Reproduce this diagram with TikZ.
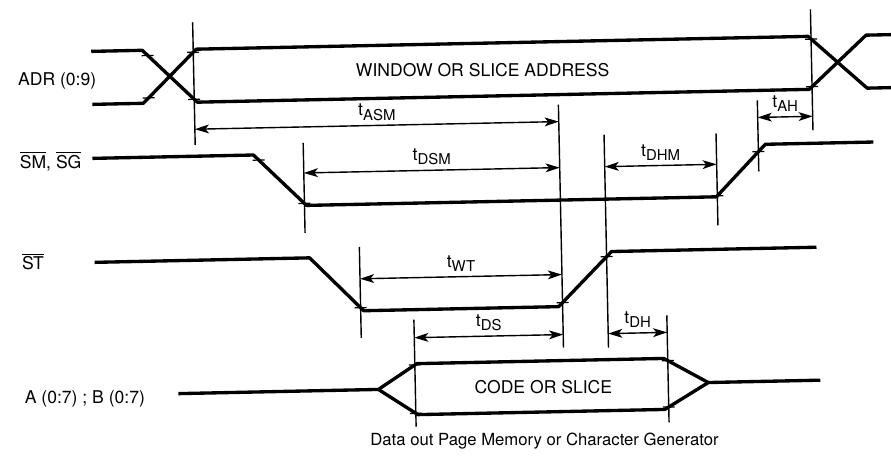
\documentclass[tikz,border=0pt]{standalone}
\usepackage{fontspec}
\setsansfont{TeX Gyre Heros}
\usetikzlibrary{arrows.meta}
\newcommand{\tsym}[1]{t\raisebox{-0.45ex}{\fontsize{8.5}{10}\selectfont #1}}
\newcommand{\tickat}[1]{\draw[tickmark] (#1) ++(-0.12,0) -- ++(0.24,0);}

\begin{document}
\begin{tikzpicture}[
  font=\sffamily\fontsize{10}{12}\selectfont,
  wave/.style={line width=1.9pt, line join=round},
  guide/.style={line width=0.8pt},
  tickmark/.style={line width=0.7pt},
  span/.style={line width=0.8pt,
    {Stealth[length=8pt,width=5pt,inset=2pt]}-{Stealth[length=8pt,width=5pt,inset=2pt]}},
  lbl/.style={midway, above, inner sep=2.5pt},
  sig/.style={anchor=base west},
]
\useasboundingbox (0,0) rectangle (17.82,9.12);
\begin{scope}[rotate around={1.2:(8.91,4.56)}]
% signal names
\node[sig] (nadr) at (0.30,7.60) {ADR (0:9)};
\node[sig] (nsm) at (0.30,5.94) {$\overline{\mbox{SM}}$, $\overline{\mbox{SG}}$};
\node[sig] (nst) at (0.30,3.91) {$\overline{\mbox{ST}}$};
\node[sig] (nab) at (0.30,1.22) {A (0:7) ; B (0:7)};

% ADR
\draw[wave] (1.90,8.24) -- (2.92,8.24) -- coordinate[pos=0.1] (a1) coordinate[pos=0.944] (a2) (4.00,7.18)
  -- (16.24,7.18) -- coordinate[pos=0.052] (a3) (17.40,8.24) -- (17.95,8.24);
\draw[wave] (1.90,7.18) -- (2.92,7.18) -- coordinate[pos=0.1] (a4) coordinate[pos=0.944] (a5) (4.00,8.24)
  -- (16.24,8.24) -- coordinate[pos=0.052] (a6) (17.40,7.18) -- (17.95,7.18);
\node (win) at (9.72,7.71) {WINDOW OR SLICE ADDRESS};

% SM, SG
\draw[wave] (1.88,6.10) -- (5.10,6.10) -- coordinate[pos=0.1] (s1) coordinate[pos=0.96] (s2) (6.14,5.07)
  -- (14.34,5.07) -- coordinate[pos=0.02] (s3) coordinate[pos=0.86] (s4) (15.34,6.10) -- (17.50,6.10);

% ST
\draw[wave] (1.88,4.02) -- (6.18,4.02) -- coordinate[pos=0.943] (t1) (7.24,2.94)
  -- (11.14,2.94) -- coordinate[pos=0.074] (t2) coordinate[pos=0.907] (t3) (12.22,4.02) -- (16.32,4.02);

% A, B
\draw[wave] (3.50,1.36) -- (7.50,1.36) -- coordinate[pos=0.949] (b1) (8.28,1.86)
  -- (13.22,1.86) -- coordinate[pos=0.091] (b2) (14.10,1.36) -- (16.34,1.36);
\draw[wave] (7.50,1.36) -- coordinate[pos=0.949] (b3) (8.28,0.84)
  -- (13.22,0.84) -- coordinate[pos=0.091] (b4) (14.10,1.36);
\node (code) at (10.80,1.34) {CODE OR SLICE};
\node[font=\sffamily\fontsize{9.5}{11}\selectfont] (dout) at (10.80,0.26) {Data out Page Memory or Character Generator};

\foreach \p in {a1,a2,a3,a4,a5,a6,s1,s2,s3,s4,t1,t2,t3,b1,b2,b3,b4} {\tickat{\p}}

% timing guides
\coordinate (v1) at (3.94,0);
\coordinate (v2) at (6.10,0);
\coordinate (v3) at (14.36,0);
\coordinate (v4) at (15.20,0);
\coordinate (v5) at (11.22,0);
\coordinate (v6) at (12.12,0);
\coordinate (v7) at (16.30,0);
\coordinate (v8) at (7.18,0);
\coordinate (v9) at (8.24,0);
\coordinate (v10) at (13.30,0);
\draw[guide] (v1 |- 0,8.78) -- (v1 |- 0,6.32);
\draw[guide] (v7 |- 0,8.78) -- (v7 |- 0,6.36);
\draw[guide] (v2 |- 0,6.32) -- (v2 |- 0,4.52);
\draw[guide] (v5 |- 0,6.98) -- (v5 |- 0,2.12);
\draw[guide] (v6 |- 0,6.36) -- (v6 |- 0,2.10);
\draw[guide] (v3 |- 0,6.34) -- (v3 |- 0,4.50);
\draw[guide] (v4 |- 0,6.98) -- (v4 |- 0,5.56);
\draw[guide] (v8 |- 0,4.22) -- (v8 |- 0,2.40);
\draw[guide] (v9 |- 0,2.74) -- (v9 |- 0,0.60);
\draw[guide] (v10 |- 0,2.72) -- (v10 |- 0,0.58);

% timing spans
\draw[span] (v1 |- 0,6.64) -- node[lbl] (tasm) {\tsym{ASM}} (v5 |- 0,6.64);
\draw[span] (v4 |- 0,6.64) -- node[lbl] (tah) {\tsym{AH}} (v7 |- 0,6.64);
\draw[span] (v2 |- 0,5.72) -- node[lbl] (tdsm) {\tsym{DSM}} (v5 |- 0,5.72);
\draw[span] (v6 |- 0,5.72) -- node[lbl] (tdhm) {\tsym{DHM}} (v3 |- 0,5.72);
\draw[span] (v8 |- 0,3.58) -- node[lbl] (twt) {\tsym{WT}} (v5 |- 0,3.58);
\draw[span] (v9 |- 0,2.38) -- node[lbl] (tds) {\tsym{DS}} (v5 |- 0,2.38);
\draw[span] (v6 |- 0,2.38) -- node[lbl] (tdh) {\tsym{DH}} (v10 |- 0,2.38);
\end{scope}
\end{tikzpicture}
\end{document}
